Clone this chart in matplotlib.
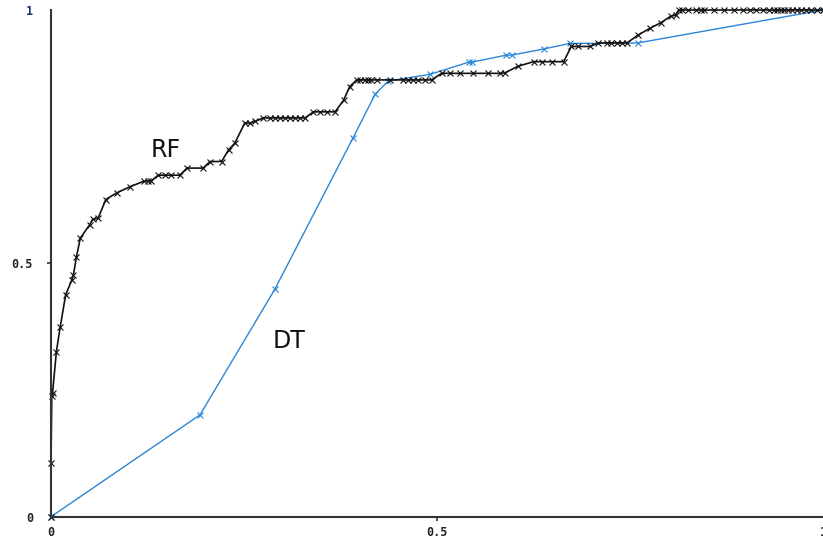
import numpy as np
import matplotlib
matplotlib.use('Agg')
import matplotlib.pyplot as plt

# ROC curves
rf_x = [0.0, 0.0, 0.001, 0.002, 0.007, 0.012, 0.019, 0.027, 0.029, 0.033, 0.038,
        0.050, 0.054, 0.061, 0.071, 0.085, 0.102, 0.120, 0.126, 0.130, 0.139,
        0.148, 0.156, 0.167, 0.176, 0.197, 0.206, 0.221, 0.230, 0.238, 0.251,
        0.258, 0.264, 0.275, 0.284, 0.290, 0.297, 0.303, 0.310, 0.316, 0.323,
        0.329, 0.340, 0.348, 0.357, 0.368, 0.379, 0.387, 0.396, 0.400, 0.407,
        0.411, 0.415, 0.422, 0.439, 0.456, 0.463, 0.469, 0.476, 0.484, 0.493,
        0.506, 0.517, 0.530, 0.547, 0.566, 0.582, 0.588, 0.605, 0.625, 0.636,
        0.649, 0.664, 0.674, 0.683, 0.698, 0.709, 0.720, 0.726, 0.733, 0.739,
        0.746, 0.761, 0.776, 0.790, 0.803, 0.809, 0.813, 0.817, 0.825, 0.836,
        0.842, 0.846, 0.859, 0.872, 0.885, 0.897, 0.905, 0.913, 0.922, 0.930,
        0.936, 0.941, 0.946, 0.950, 0.955, 0.960, 0.966, 0.972, 0.978, 0.985,
        0.992, 1.0]
rf_y = [0.0, 0.106, 0.238, 0.244, 0.326, 0.375, 0.438, 0.467, 0.477, 0.513, 0.550,
        0.576, 0.587, 0.589, 0.626, 0.639, 0.651, 0.662, 0.663, 0.663, 0.674,
        0.674, 0.674, 0.674, 0.688, 0.688, 0.701, 0.701, 0.724, 0.737, 0.777,
        0.777, 0.780, 0.787, 0.787, 0.787, 0.787, 0.787, 0.787, 0.787, 0.787,
        0.787, 0.799, 0.799, 0.799, 0.799, 0.822, 0.849, 0.862, 0.862, 0.862,
        0.862, 0.862, 0.862, 0.862, 0.862, 0.862, 0.862, 0.862, 0.862, 0.862,
        0.875, 0.875, 0.875, 0.875, 0.875, 0.875, 0.876, 0.889, 0.898, 0.898,
        0.898, 0.898, 0.928, 0.928, 0.928, 0.935, 0.935, 0.935, 0.935, 0.935,
        0.935, 0.951, 0.964, 0.975, 0.988, 0.990, 1.0, 1.0, 1.0, 1.0,
        1.0, 1.0, 1.0, 1.0, 1.0, 1.0, 1.0, 1.0, 1.0, 1.0,
        1.0, 1.0, 1.0, 1.0, 1.0, 1.0, 1.0, 1.0, 1.0, 1.0,
        1.0, 1.0]

dt_x = [0.0, 0.193, 0.290, 0.391, 0.420, 0.437, 0.491, 0.541, 0.545, 0.590,
        0.597, 0.638, 0.672, 0.760, 1.0]
dt_y = [0.0, 0.201, 0.449, 0.747, 0.834, 0.860, 0.873, 0.897, 0.897, 0.911,
        0.911, 0.923, 0.934, 0.935, 1.0]

ticks = [0, 0.5, 1]
tick_labels = ['0', '0.5', '1']

fig = plt.figure(figsize=(8.23, 5.40), dpi=100)
ax = fig.add_axes([51 / 823, 23.3 / 540, 772 / 823, 506.7 / 540])

ax.plot(dt_x, dt_y, color='#2b86d8', lw=1.0, marker='x', ms=4, mew=0.8, clip_on=False)
ax.plot(rf_x, rf_y, color='#111111', lw=1.2, marker='x', ms=4, mew=0.8, clip_on=False)

ax.text(0.148, 0.723, 'RF', fontsize=17, ha='center', va='center', color='#111111')
ax.text(0.308, 0.346, 'DT', fontsize=17, ha='center', va='center', color='#111111')

ax.set_xlim(0, 1)
ax.set_ylim(0, 1)
for s in ['top', 'right']:
    ax.spines[s].set_visible(False)
for s in ['left', 'bottom']:
    ax.spines[s].set_color('#333333')
    ax.spines[s].set_linewidth(1.5)

ax.set_xticks(ticks)
ax.set_xticklabels(tick_labels)
ax.set_yticks(ticks)
ax.set_yticklabels(tick_labels)
ax.tick_params(length=3, width=1.2, color='#333333', labelsize=8.5)
ax.tick_params(axis='x', pad=4)
ax.tick_params(axis='y', pad=10)
for lab in ax.get_xticklabels() + ax.get_yticklabels():
    lab.set_family('DejaVu Sans Mono')
    lab.set_color('#222222')
    lab.set_fontweight('bold')
ax.get_yticklabels()[2].set_color('#1a3a6e')

# only the middle ticks show a mark
for axis in [ax.xaxis, ax.yaxis]:
    tks = axis.get_major_ticks()
    for i in [0, 2]:
        tks[i].tick1line.set_visible(False)

fig.savefig('out.png', dpi=100)
